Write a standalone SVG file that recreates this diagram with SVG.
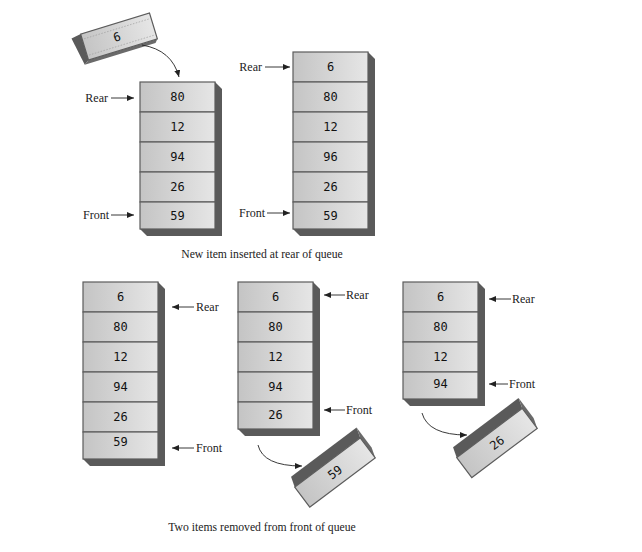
<svg xmlns="http://www.w3.org/2000/svg" width="642" height="552" viewBox="0 0 642 552">
<style>
.cell{fill:url(#cg);stroke:#5c5c5c;stroke-width:1.2}
.sh{fill:#5a5a5a}
.sh2{fill:#6a6a6a}
.num{font-family:"DejaVu Sans Mono","Liberation Mono",monospace;font-size:12px;fill:#111;text-anchor:middle}
.lbl{font-family:"Liberation Serif","Times New Roman",serif;font-size:12px;fill:#222}
.end{text-anchor:end}
.cap{font-family:"Liberation Serif","Times New Roman",serif;font-size:11.7px;fill:#222;text-anchor:middle}
.arr{fill:none;stroke:#222;stroke-width:0.9;marker-end:url(#ah)}
.dash{fill:none;stroke:#9a9a9a;stroke-width:0.6;stroke-dasharray:1.5 1.5}
</style>
<defs>
<linearGradient id="cg" x1="0" y1="0" x2="1" y2="0">
<stop offset="0" stop-color="#c4c4c4"/>
<stop offset="1" stop-color="#e6e6e6"/>
</linearGradient>
<marker id="ah" markerWidth="7" markerHeight="6" refX="7" refY="3" orient="auto" markerUnits="userSpaceOnUse">
<path d="M0,0 L7,3 L0,6 z" fill="#222"/>
</marker>
</defs>

<rect width="642" height="552" fill="#fff"/>

<!-- Block 6 (being inserted) -->
<g id="block-6" transform="translate(119,36.5) rotate(-17)">
<polygon class="sh" points="-36,-13.5 -46,-12 -41,17 -36,13.5"/>
<polygon class="sh2" points="-36,13.5 -41,17 33,17 36,13.5"/>
<rect class="cell" x="-36" y="-13.5" width="72" height="27"/>
<line class="dash" x1="-34" y1="-8" x2="34" y2="-8"/>
<line class="dash" x1="-34" y1="9" x2="34" y2="9"/>
<text class="num" x="-2" y="4">6</text>
</g>

<!-- Stack 1 -->
<g id="stack-1" transform="translate(140,82)">
<polygon class="sh" points="75,0 82,7 82,154 7,154 0,147"/>
<rect class="cell" x="0" y="0" width="75" height="30"/>
<rect class="cell" x="0" y="30" width="75" height="30"/>
<rect class="cell" x="0" y="60" width="75" height="30"/>
<rect class="cell" x="0" y="90" width="75" height="30"/>
<rect class="cell" x="0" y="120" width="75" height="27"/>
<text class="num" x="37.5" y="19">80</text>
<text class="num" x="37.5" y="49">12</text>
<text class="num" x="37.5" y="79">94</text>
<text class="num" x="37.5" y="109">26</text>
<text class="num" x="37.5" y="137.5">59</text>
</g>

<!-- Stack 2 -->
<g id="stack-2" transform="translate(293,52)">
<polygon class="sh" points="75,0 82,7 82,184 7,184 0,177"/>
<rect class="cell" x="0" y="0" width="75" height="30"/>
<rect class="cell" x="0" y="30" width="75" height="30"/>
<rect class="cell" x="0" y="60" width="75" height="30"/>
<rect class="cell" x="0" y="90" width="75" height="30"/>
<rect class="cell" x="0" y="120" width="75" height="30"/>
<rect class="cell" x="0" y="150" width="75" height="27"/>
<text class="num" x="37.5" y="19">6</text>
<text class="num" x="37.5" y="49">80</text>
<text class="num" x="37.5" y="79">12</text>
<text class="num" x="37.5" y="109">96</text>
<text class="num" x="37.5" y="139">26</text>
<text class="num" x="37.5" y="167.5">59</text>
</g>

<!-- Stack 3 -->
<g id="stack-3" transform="translate(83,282)">
<polygon class="sh" points="75,0 82,7 82,184 7,184 0,177"/>
<rect class="cell" x="0" y="0" width="75" height="30"/>
<rect class="cell" x="0" y="30" width="75" height="30"/>
<rect class="cell" x="0" y="60" width="75" height="30"/>
<rect class="cell" x="0" y="90" width="75" height="30"/>
<rect class="cell" x="0" y="120" width="75" height="30"/>
<rect class="cell" x="0" y="150" width="75" height="27"/>
<text class="num" x="37.5" y="19">6</text>
<text class="num" x="37.5" y="49">80</text>
<text class="num" x="37.5" y="79">12</text>
<text class="num" x="37.5" y="109">94</text>
<text class="num" x="37.5" y="139">26</text>
<text class="num" x="37.5" y="164">59</text>
</g>

<!-- Stack 4 -->
<g id="stack-4" transform="translate(238,282)">
<polygon class="sh" points="75,0 82,7 82,154 7,154 0,147"/>
<rect class="cell" x="0" y="0" width="75" height="30"/>
<rect class="cell" x="0" y="30" width="75" height="30"/>
<rect class="cell" x="0" y="60" width="75" height="30"/>
<rect class="cell" x="0" y="90" width="75" height="30"/>
<rect class="cell" x="0" y="120" width="75" height="27"/>
<text class="num" x="37.5" y="19">6</text>
<text class="num" x="37.5" y="49">80</text>
<text class="num" x="37.5" y="79">12</text>
<text class="num" x="37.5" y="109">94</text>
<text class="num" x="37.5" y="137">26</text>
</g>

<!-- Stack 5 -->
<g id="stack-5" transform="translate(403,282)">
<polygon class="sh" points="75,0 82,7 82,124 7,124 0,117"/>
<rect class="cell" x="0" y="0" width="75" height="30"/>
<rect class="cell" x="0" y="30" width="75" height="30"/>
<rect class="cell" x="0" y="60" width="75" height="30"/>
<rect class="cell" x="0" y="90" width="75" height="27"/>
<text class="num" x="37.5" y="19">6</text>
<text class="num" x="37.5" y="49">80</text>
<text class="num" x="37.5" y="79">12</text>
<text class="num" x="37.5" y="106">94</text>
</g>

<!-- Removed block 59 -->
<g id="block-59" transform="translate(335,472.5) rotate(-37)">
<polygon class="sh" points="-41,-12.5 -37.7,-23 44.3,-23 41,-12.5"/>
<polygon class="sh2" points="41,-12.5 44.3,-23 44.3,2 41,12.5"/>
<rect class="cell" x="-41" y="-12.5" width="82" height="25"/>
<text class="num" x="0" y="4">59</text>
</g>

<!-- Removed block 26 -->
<g id="block-26" transform="translate(497,443) rotate(-37)">
<polygon class="sh" points="-41,-12.5 -37.7,-23 44.3,-23 41,-12.5"/>
<polygon class="sh2" points="41,-12.5 44.3,-23 44.3,2 41,12.5"/>
<rect class="cell" x="-41" y="-12.5" width="82" height="25"/>
<text class="num" x="0" y="4">26</text>
</g>

<!-- Labels -->
<g id="labels">
<text class="lbl end" x="108" y="102">Rear</text>
<text class="lbl end" x="109" y="219">Front</text>
<text class="lbl end" x="262" y="71">Rear</text>
<text class="lbl end" x="265" y="217">Front</text>
<text class="lbl" x="196" y="311">Rear</text>
<text class="lbl" x="196" y="452">Front</text>
<text class="lbl" x="346" y="299">Rear</text>
<text class="lbl" x="346" y="414">Front</text>
<text class="lbl" x="512" y="303">Rear</text>
<text class="lbl" x="509" y="388">Front</text>
<text class="cap" x="262" y="258">New item inserted at rear of queue</text>
<text class="cap" x="262" y="531">Two items removed from front of queue</text>
</g>

<!-- Connectors -->
<g id="connectors">
<path class="arr" d="M111,98 L134,98"/>
<path class="arr" d="M111,215 L134,215"/>
<path class="arr" d="M265,67 L290,67"/>
<path class="arr" d="M267,213 L290,213"/>
<path class="arr" d="M194,307 L172,307"/>
<path class="arr" d="M194,448 L172,448"/>
<path class="arr" d="M345,295 L324,295"/>
<path class="arr" d="M345,410 L324,410"/>
<path class="arr" d="M511,299 L489,299"/>
<path class="arr" d="M508,384 L489,384"/>
<path class="arr" d="M142,45 Q172,50 179,77"/>
<path class="arr" d="M258,445 Q263,466 302,466"/>
<path class="arr" d="M422,413 Q428,435 467,435"/>
</g>
</svg>
